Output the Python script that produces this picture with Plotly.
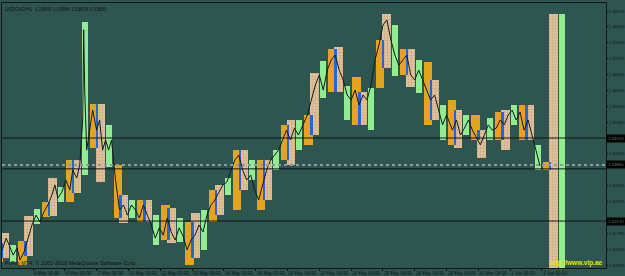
import plotly.graph_objects as go

# ---------------- data ----------------
# H1 bar index of 00:00 for each trading day (3 May .. 3 Jun 2010)
day_start = [-8, 16, 40, 64, 88, 112, 136, 160, 184, 208, 232, 256, 280, 304,
             328, 352, 376, 400, 424, 448, 472, 496, 520, 544]

asia_hi = [1.0150, 1.0156, 1.0275, 1.0403, 1.0574, 1.0388, 1.0281, 1.0266, 1.0214, 1.0312,
           1.0433, 1.0403, 1.0510, 1.0540, 1.0741, 1.0656, 1.0769, 1.0741, 1.0702, 1.0586,
           1.0540, 1.0549, 1.0571, 1.0397]
asia_lo = [1.0092, 1.0083, 1.0229, 1.0275, 1.0440, 1.0226, 1.0214, 1.0159, 1.0083, 1.0214,
           1.0251, 1.0251, 1.0403, 1.0449, 1.0610, 1.0510, 1.0622, 1.0662, 1.0510, 1.0449,
           1.0464, 1.0464, 1.0464, 1.0372]
europe_hi = [1.0181, 1.0232, 1.0348, 1.0403, 1.0574, 1.0296, 1.0281, 1.0257, 1.0241, 1.0327,
             1.0433, 1.0403, 1.0525, 1.0668, 1.0747, 1.0610, 1.0848, 1.0741, 1.0647, 1.0555,
             1.0494, 1.0555, 1.0571, 1.0848]
europe_lo = [1.0104, 1.0110, 1.0232, 1.0303, 1.0336, 1.0211, 1.0214, 1.0150, 1.0104, 1.0235,
             1.0312, 1.0281, 1.0388, 1.0479, 1.0610, 1.0510, 1.0683, 1.0625, 1.0525, 1.0440,
             1.0409, 1.0433, 1.0464, 1.0050]
us_hi = [1.0144, 1.0254, 1.0321, 1.0824, 1.0510, 1.0281, 1.0235, 1.0226, 1.0251, 1.0348,
         1.0403, 1.0433, 1.0525, 1.0705, 1.0628, 1.0622, 1.0814, 1.0708, 1.0571, 1.0540,
         1.0531, 1.0571, 1.0449, 1.0848]
us_lo = [1.0092, 1.0208, 1.0275, 1.0357, 1.0382, 1.0226, 1.0144, 1.0153, 1.0129, 1.0296,
         1.0342, 1.0372, 1.0433, 1.0592, 1.0525, 1.0494, 1.0659, 1.0607, 1.0464, 1.0479,
         1.0464, 1.0510, 1.0372, 1.0050]

# session hours within the day
asia_hours = (1, 9.5)
europe_hours = (7, 16)
us_hours = (17, 23)

# price path (bar index, price)
price_bar = [1, 5, 8, 12, 16, 19, 23, 27, 31, 35, 39, 43, 47, 51, 54, 57, 61, 65, 69, 72, 76, 79,
             82, 83, 84, 86, 89, 92, 96, 99, 102, 105, 108, 111, 115, 119, 123, 127, 131, 135,
             139, 143, 147, 151, 155, 159, 163, 167, 171, 175, 179, 183, 187, 191, 195, 199,
             203, 207, 211, 215, 219, 223, 227, 231, 235, 239, 243, 247, 251, 255, 259, 263,
             267, 271, 275, 279, 283, 287, 291, 295, 299, 304, 308, 312, 316, 320, 324, 328,
             332, 336, 340, 344, 348, 352, 356, 360, 364, 368, 372, 376, 380, 384, 388, 392,
             396, 400, 404, 408, 412, 416, 420, 424, 428, 432, 436, 440, 444, 448, 454, 458,
             462, 466, 470, 474, 478, 482, 486, 490, 494, 498, 502, 506, 510, 514, 518, 522,
             526, 530, 534, 538, 542]
price_val = [1.0129, 1.0165, 1.0144, 1.0113, 1.0135, 1.0098, 1.0123, 1.0165, 1.0205, 1.0235,
             1.0214, 1.0245, 1.0266, 1.0296, 1.0327, 1.0287, 1.0305, 1.0342, 1.0312, 1.0372,
             1.0348, 1.0388, 1.0525, 1.0800, 1.0616, 1.0433, 1.0494, 1.0555, 1.0494, 1.0525,
             1.0433, 1.0464, 1.0433, 1.0464, 1.0342, 1.0251, 1.0266, 1.0235, 1.0266, 1.0251,
             1.0226, 1.0266, 1.0235, 1.0205, 1.0165, 1.0196, 1.0174, 1.0226, 1.0184, 1.0159,
             1.0196, 1.0171, 1.0129, 1.0159, 1.0174, 1.0205, 1.0184, 1.0235, 1.0266, 1.0281,
             1.0305, 1.0327, 1.0336, 1.0372, 1.0403, 1.0418, 1.0372, 1.0342, 1.0357, 1.0312,
             1.0281, 1.0327, 1.0372, 1.0403, 1.0418, 1.0433, 1.0464, 1.0494, 1.0464, 1.0500,
             1.0479, 1.0510, 1.0540, 1.0586, 1.0631, 1.0662, 1.0616, 1.0677, 1.0708, 1.0723,
             1.0677, 1.0647, 1.0601, 1.0586, 1.0616, 1.0571, 1.0601, 1.0586, 1.0631, 1.0708,
             1.0753, 1.0814, 1.0830, 1.0769, 1.0723, 1.0692, 1.0708, 1.0723, 1.0662, 1.0647,
             1.0677, 1.0647, 1.0616, 1.0586, 1.0601, 1.0555, 1.0510, 1.0540, 1.0494, 1.0525,
             1.0479, 1.0500, 1.0525, 1.0494, 1.0470, 1.0449, 1.0479, 1.0510, 1.0494, 1.0500,
             1.0525, 1.0510, 1.0540, 1.0555, 1.0525, 1.0549, 1.0494, 1.0525, 1.0479, 1.0433,
             1.0385]

# horizontal levels (labelled ones shown in black boxes on the price scale)
level_lines = [1.04700, 1.03760, 1.02170]
labelled_levels = [1.04700, 1.02170]
bid_price = 1.03880

# axis labels
y_tick_values = [1.08570, 1.08090, 1.07610, 1.07115, 1.06635, 1.06155, 1.05670, 1.05180,
                 1.04220, 1.03245, 1.02765, 1.01790, 1.01310, 1.00830]
x_tick_bars = [0, 32, 64, 96, 128, 160, 192, 224, 256, 288, 320, 352, 384, 416, 448, 480, 512, 544]
x_tick_text = ["3 May 2010", "4 May 16:00", "6 May 00:00", "7 May 08:00", "10 May 16:00",
               "12 May 00:00", "13 May 08:00", "14 May 16:00", "18 May 00:00", "19 May 08:00",
               "20 May 16:00", "24 May 00:00", "25 May 08:00", "26 May 16:00", "28 May 00:00",
               "31 May 08:00", "1 Jun 16:00", "3 Jun 00:00"]

title_text = "USDCAD,H1  1.03849 1.03954 1.03819 1.03880"
copyright_text = "FxPro MT4, © 2001-2010 MetaQuotes Software Corp."
site_text = "http://www.vip.ae"

# ---------------- styles ----------------
BG = "#2e5550"
ORANGE = "#e3a520"
TAN = "#e0c29c"
TAN_DOT = "#b38c69"
GREEN = "#90ee90"
BLUE = "#2b62d6"
DARK = "#141a18"
TXT = "#0e1412"


def boxes(hours, lo, hi):
    xs, ys, bs, ws = [], [], [], []
    for d, l, h in zip(day_start, lo, hi):
        a, b = d + hours[0], d + hours[1]
        xs.append((a + b) / 2)
        ws.append(b - a)
        bs.append(l)
        ys.append(h - l)
    return xs, ys, bs, ws


fig = go.Figure()

x, y, b, w = boxes(asia_hours, asia_lo, asia_hi)
fig.add_trace(go.Bar(x=x, y=y, base=b, width=w, marker=dict(color=ORANGE, line=dict(width=0)),
                     hoverinfo="skip"))

x, y, b, w = boxes(europe_hours, europe_lo, europe_hi)
fig.add_trace(go.Bar(x=x, y=y, base=b, width=w,
                     marker=dict(color=TAN, line=dict(width=0),
                                 pattern=dict(shape=".", bgcolor=TAN, fgcolor=TAN_DOT,
                                              size=3, solidity=0.3)),
                     hoverinfo="skip"))

# overlap of asia and europe boxes -> blue
ov_x, ov_y, ov_b, ov_w = [], [], [], []
for d, al, ah, el, eh in zip(day_start, asia_lo, asia_hi, europe_lo, europe_hi):
    lo, hi = max(al, el), min(ah, eh)
    a, bb = d + europe_hours[0], d + asia_hours[1]
    if hi > lo and bb > a:
        ov_x.append((a + bb) / 2)
        ov_w.append(bb - a)
        ov_b.append(lo)
        ov_y.append(hi - lo)
fig.add_trace(go.Bar(x=ov_x, y=ov_y, base=ov_b, width=ov_w,
                     marker=dict(color=BLUE, line=dict(width=0)), hoverinfo="skip"))

x, y, b, w = boxes(us_hours, us_lo, us_hi)
fig.add_trace(go.Bar(x=x, y=y, base=b, width=w, marker=dict(color=GREEN, line=dict(width=0)),
                     hoverinfo="skip"))

fig.add_trace(go.Scatter(x=price_bar, y=price_val, mode="lines",
                         line=dict(color=DARK, width=1), hoverinfo="skip"))

for lv in level_lines:
    fig.add_hline(y=lv, line=dict(color="#101614", width=1))
fig.add_hline(y=bid_price, line=dict(color="#8c9c98", width=2, dash="dot"))

FONT = "Liberation Sans"
annotations = []
for xb, t in zip(x_tick_bars, x_tick_text):
    annotations.append(dict(x=xb, y=0, xref="x", yref="paper", text=t, showarrow=False,
                            xanchor="left", yanchor="top", xshift=-1, yshift=-0.5,
                            font=dict(family=FONT, size=4.6, color=TXT)))
for lv in labelled_levels + [bid_price]:
    annotations.append(dict(x=1, y=lv, xref="paper", yref="y", text=f"{lv:.5f}",
                            showarrow=False, xanchor="left", yanchor="middle", xshift=0,
                            bgcolor="#000000", borderpad=1,
                            font=dict(family=FONT, size=4.3, color="#6a7a76")))
annotations.append(dict(x=0, y=1, xref="paper", yref="paper", text=title_text, showarrow=False,
                        xanchor="left", yanchor="top", xshift=1, yshift=-2,
                        font=dict(family=FONT, size=4.7, color=TXT)))
annotations.append(dict(x=0, y=0, xref="paper", yref="paper", text=copyright_text,
                        showarrow=False, xanchor="left", yanchor="bottom", xshift=1, yshift=0,
                        font=dict(family=FONT, size=5.5, color=TXT)))
annotations.append(dict(x=1, y=0, xref="paper", yref="paper", text=f"<b>{site_text}</b>",
                        showarrow=False, xanchor="right", yanchor="bottom", xshift=-1, yshift=-1,
                        font=dict(family=FONT, size=6.5, color="#e6e600")))

fig.update_layout(
    width=625, height=276,
    margin=dict(l=2, r=19, t=3, b=8, autoexpand=False),
    paper_bgcolor=BG, plot_bgcolor=BG,
    barmode="overlay", bargap=0,
    showlegend=False,
    annotations=annotations,
    xaxis=dict(range=[0.81, 608.4], showgrid=False, zeroline=False, automargin=False,
               tickvals=x_tick_bars, showticklabels=False, ticks="outside", ticklen=2,
               tickcolor="#101614", showline=True, linecolor="#101614", linewidth=1,
               mirror=True),
    yaxis=dict(range=[1.00739, 1.08814], side="right", showgrid=False, zeroline=False,
               automargin=False,
               tickvals=y_tick_values, ticktext=[f"{v:.5f}" for v in y_tick_values],
               ticks="outside", ticklen=1, tickcolor="#101614",
               tickfont=dict(family=FONT, size=4.3, color=TXT),
               showline=True, linecolor="#101614", linewidth=1, mirror=True),
)

fig.write_html("out.html")
